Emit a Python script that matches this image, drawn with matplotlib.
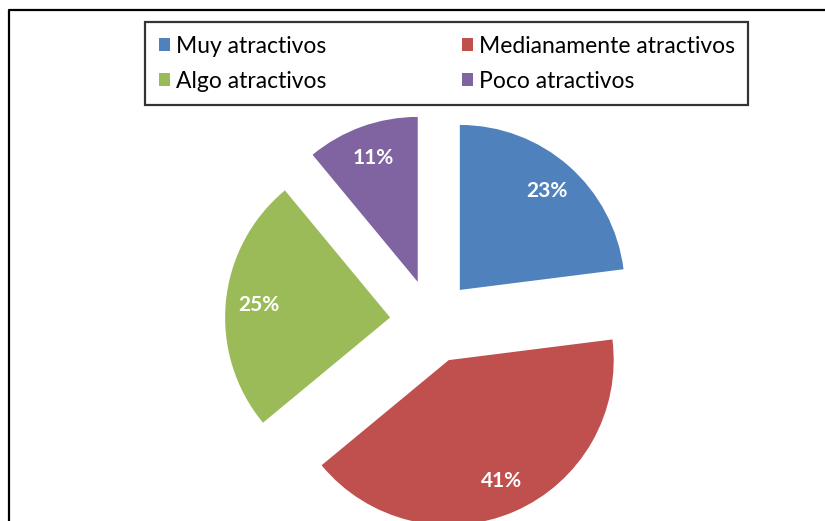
import matplotlib
matplotlib.use("Agg")
import matplotlib.pyplot as plt
from matplotlib.lines import Line2D
from matplotlib.patches import Patch

# data
labels = ["Muy atractivos", "Medianamente atractivos", "Algo atractivos", "Poco atractivos"]
shares = [23, 41, 25, 11]
colors = ["#4F81BD", "#C0504D", "#9BBB59", "#8064A2"]

W, H = 825, 521
R = 165.0            # pie radius in px
cx, cy = 432.0, 321.5  # pie centre in px (from top-left)

plt.rcParams["font.family"] = ["Lato", "DejaVu Sans"]

fig = plt.figure(figsize=(W / 100, H / 100), dpi=100)
ax = fig.add_axes([0, 0, 1, 1])

wedges, _, autotexts = ax.pie(
    shares, colors=colors, startangle=90, counterclock=False,
    explode=[0.255] * 4, radius=1.0, autopct="%d%%", pctdistance=0.8,
    wedgeprops=dict(linewidth=0), textprops=dict(color="white", fontsize=15, fontweight="bold"),
)
ax.set_xlim(-cx / R, (W - cx) / R)
ax.set_ylim(-(H - cy) / R, cy / R)
ax.set_aspect("equal")
ax.axis("off")

# outer frame (left + top only, the rest is cropped)
fx, fy = 9 / W, 1 - 10 / H
fig.add_artist(Line2D([fx, fx, 1.0], [0.0, fy, fy], transform=fig.transFigure, color="black", lw=1.6))

# legend fills row-wise in the reference -> reorder for matplotlib's column fill
order = [0, 2, 1, 3]
handles = [Patch(facecolor=colors[i], edgecolor="none") for i in order]
leg = fig.legend(handles, [labels[i] for i in order], ncol=2,
                 bbox_to_anchor=(145 / W, 1 - 22 / H), loc="upper left",
                 fontsize=16.5, frameon=True, fancybox=False, edgecolor="black",
                 handlelength=0.5, handleheight=0.5, handletextpad=0.25,
                 borderpad=0.6, labelspacing=0.6, columnspacing=5.9, borderaxespad=0)
leg.get_frame().set_linewidth(1.6)

fig.savefig("out.png", dpi=100)
